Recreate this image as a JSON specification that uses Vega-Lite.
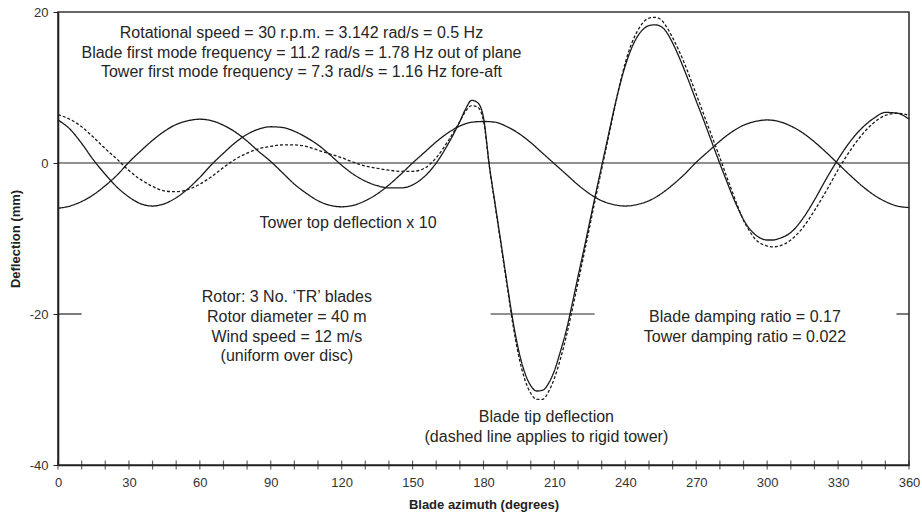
{
  "$schema": "https://vega.github.io/schema/vega-lite/v6.json",
  "width": 851,
  "height": 453,
  "autosize": {"type": "none"},
  "padding": {"left": 58, "top": 12, "right": 13, "bottom": 52},
  "background": "white",
  "config": {
    "font": "Liberation Sans",
    "view": {"stroke": "#333333", "strokeWidth": 1.6},
    "axis": {"grid": false, "domainColor": "#222222", "domainWidth": 1.6, "tickColor": "#222222", "labelColor": "#333333", "labelFont": "Liberation Sans", "labelFontSize": 13, "titleFont": "Liberation Sans", "titleFontSize": 13, "titleFontWeight": "bold", "titleColor": "#222222"}
  },
  "datasets": {
    "segments": [
      {"az": 0, "az2": 360, "d": 0},
      {"az": 0, "az2": 10, "d": -20},
      {"az": 183, "az2": 227, "d": -20},
      {"az": 354.7, "az2": 360, "d": -20}
    ],
    "xticks": [
      {"az": 0, "d": -40}, {"az": 10, "d": -40}, {"az": 20, "d": -40}, {"az": 30, "d": -40}, {"az": 40, "d": -40}, {"az": 50, "d": -40}, {"az": 60, "d": -40}, {"az": 70, "d": -40}, {"az": 80, "d": -40}, {"az": 90, "d": -40}, {"az": 100, "d": -40}, {"az": 110, "d": -40}, {"az": 120, "d": -40}, {"az": 130, "d": -40}, {"az": 140, "d": -40}, {"az": 150, "d": -40}, {"az": 160, "d": -40}, {"az": 170, "d": -40}, {"az": 180, "d": -40}, {"az": 190, "d": -40}, {"az": 200, "d": -40}, {"az": 210, "d": -40}, {"az": 220, "d": -40}, {"az": 230, "d": -40}, {"az": 240, "d": -40}, {"az": 250, "d": -40}, {"az": 260, "d": -40}, {"az": 270, "d": -40}, {"az": 280, "d": -40}, {"az": 290, "d": -40}, {"az": 300, "d": -40}, {"az": 310, "d": -40}, {"az": 320, "d": -40}, {"az": 330, "d": -40}, {"az": 340, "d": -40}, {"az": 350, "d": -40}, {"az": 360, "d": -40}
    ],
    "notes": [
      {"az": 103, "d": 17.2, "t": "Rotational speed = 30 r.p.m. = 3.142 rad/s = 0.5 Hz"},
      {"az": 103, "d": 14.6, "t": "Blade first mode frequency = 11.2 rad/s = 1.78 Hz out of plane"},
      {"az": 103, "d": 12.0, "t": "Tower first mode frequency = 7.3 rad/s = 1.16 Hz fore-aft"},
      {"az": 122.7, "d": -8.0, "t": "Tower top deflection x 10"},
      {"az": 96.8, "d": -17.8, "t": "Rotor: 3 No. ‘TR’ blades"},
      {"az": 96.8, "d": -20.4, "t": "Rotor diameter = 40 m"},
      {"az": 96.8, "d": -23.0, "t": "Wind speed = 12 m/s"},
      {"az": 96.8, "d": -25.5, "t": "(uniform over disc)"},
      {"az": 206.6, "d": -33.7, "t": "Blade tip deflection"},
      {"az": 206.6, "d": -36.3, "t": "(dashed line applies to rigid tower)"},
      {"az": 290.6, "d": -20.4, "t": "Blade damping ratio = 0.17"},
      {"az": 290.6, "d": -23.1, "t": "Tower damping ratio = 0.022"}
    ],
    "curves": [
      {"s": "tower", "az": 0, "d": -6.0}, {"s": "tower", "az": 5, "d": -5.7}, {"s": "tower", "az": 10, "d": -5.1}, {"s": "tower", "az": 15, "d": -4.2}, {"s": "tower", "az": 20, "d": -3.0}, {"s": "tower", "az": 25, "d": -1.6}, {"s": "tower", "az": 30, "d": 0.1}, {"s": "tower", "az": 35, "d": 1.6}, {"s": "tower", "az": 40, "d": 3.0}, {"s": "tower", "az": 45, "d": 4.2}, {"s": "tower", "az": 50, "d": 5.1}, {"s": "tower", "az": 55, "d": 5.6}, {"s": "tower", "az": 60, "d": 5.8}, {"s": "tower", "az": 65, "d": 5.6}, {"s": "tower", "az": 70, "d": 5.0}, {"s": "tower", "az": 75, "d": 4.1}, {"s": "tower", "az": 80, "d": 2.9}, {"s": "tower", "az": 85, "d": 1.5}, {"s": "tower", "az": 90, "d": 0.2}, {"s": "tower", "az": 95, "d": -1.3}, {"s": "tower", "az": 100, "d": -2.8}, {"s": "tower", "az": 105, "d": -4.0}, {"s": "tower", "az": 110, "d": -5.0}, {"s": "tower", "az": 115, "d": -5.6}, {"s": "tower", "az": 120, "d": -5.8}, {"s": "tower", "az": 125, "d": -5.6}, {"s": "tower", "az": 130, "d": -5.0}, {"s": "tower", "az": 135, "d": -4.1}, {"s": "tower", "az": 140, "d": -2.9}, {"s": "tower", "az": 145, "d": -1.5}, {"s": "tower", "az": 150, "d": 0.0}, {"s": "tower", "az": 155, "d": 1.4}, {"s": "tower", "az": 160, "d": 2.8}, {"s": "tower", "az": 165, "d": 4.0}, {"s": "tower", "az": 170, "d": 4.9}, {"s": "tower", "az": 175, "d": 5.4}, {"s": "tower", "az": 180, "d": 5.5}, {"s": "tower", "az": 185, "d": 5.4}, {"s": "tower", "az": 190, "d": 4.8}, {"s": "tower", "az": 195, "d": 3.9}, {"s": "tower", "az": 200, "d": 2.7}, {"s": "tower", "az": 205, "d": 1.3}, {"s": "tower", "az": 210, "d": -0.1}, {"s": "tower", "az": 215, "d": -1.5}, {"s": "tower", "az": 220, "d": -2.9}, {"s": "tower", "az": 225, "d": -4.1}, {"s": "tower", "az": 230, "d": -5.0}, {"s": "tower", "az": 235, "d": -5.5}, {"s": "tower", "az": 240, "d": -5.7}, {"s": "tower", "az": 245, "d": -5.5}, {"s": "tower", "az": 250, "d": -5.0}, {"s": "tower", "az": 255, "d": -4.1}, {"s": "tower", "az": 260, "d": -2.9}, {"s": "tower", "az": 265, "d": -1.5}, {"s": "tower", "az": 270, "d": 0.1}, {"s": "tower", "az": 275, "d": 1.5}, {"s": "tower", "az": 280, "d": 2.9}, {"s": "tower", "az": 285, "d": 4.1}, {"s": "tower", "az": 290, "d": 5.0}, {"s": "tower", "az": 295, "d": 5.5}, {"s": "tower", "az": 300, "d": 5.7}, {"s": "tower", "az": 305, "d": 5.5}, {"s": "tower", "az": 310, "d": 4.9}, {"s": "tower", "az": 315, "d": 4.0}, {"s": "tower", "az": 320, "d": 2.8}, {"s": "tower", "az": 325, "d": 1.4}, {"s": "tower", "az": 330, "d": -0.1}, {"s": "tower", "az": 335, "d": -1.6}, {"s": "tower", "az": 340, "d": -3.0}, {"s": "tower", "az": 345, "d": -4.2}, {"s": "tower", "az": 350, "d": -5.1}, {"s": "tower", "az": 355, "d": -5.7}, {"s": "tower", "az": 360, "d": -5.9},

      {"s": "rigid", "az": 0, "d": 6.4}, {"s": "rigid", "az": 5, "d": 5.8}, {"s": "rigid", "az": 10, "d": 4.8}, {"s": "rigid", "az": 15, "d": 3.4}, {"s": "rigid", "az": 20, "d": 1.9}, {"s": "rigid", "az": 25, "d": 0.5}, {"s": "rigid", "az": 30, "d": -1.0}, {"s": "rigid", "az": 35, "d": -2.2}, {"s": "rigid", "az": 40, "d": -3.1}, {"s": "rigid", "az": 45, "d": -3.7}, {"s": "rigid", "az": 50, "d": -3.8}, {"s": "rigid", "az": 55, "d": -3.5}, {"s": "rigid", "az": 60, "d": -2.8}, {"s": "rigid", "az": 65, "d": -1.8}, {"s": "rigid", "az": 70, "d": -0.6}, {"s": "rigid", "az": 75, "d": 0.5}, {"s": "rigid", "az": 80, "d": 1.3}, {"s": "rigid", "az": 85, "d": 1.9}, {"s": "rigid", "az": 90, "d": 2.2}, {"s": "rigid", "az": 95, "d": 2.4}, {"s": "rigid", "az": 100, "d": 2.4}, {"s": "rigid", "az": 105, "d": 2.2}, {"s": "rigid", "az": 110, "d": 1.7}, {"s": "rigid", "az": 115, "d": 1.2}, {"s": "rigid", "az": 120, "d": 0.7}, {"s": "rigid", "az": 125, "d": 0.1}, {"s": "rigid", "az": 130, "d": -0.4}, {"s": "rigid", "az": 135, "d": -0.7}, {"s": "rigid", "az": 140, "d": -0.95}, {"s": "rigid", "az": 145, "d": -1.1}, {"s": "rigid", "az": 150, "d": -1.1}, {"s": "rigid", "az": 155, "d": -0.7}, {"s": "rigid", "az": 160, "d": 0.7}, {"s": "rigid", "az": 165, "d": 2.9}, {"s": "rigid", "az": 170, "d": 5.5}, {"s": "rigid", "az": 172.5, "d": 6.9}, {"s": "rigid", "az": 175, "d": 7.6}, {"s": "rigid", "az": 177.5, "d": 7.4}, {"s": "rigid", "az": 180, "d": 5.6}, {"s": "rigid", "az": 182.5, "d": -0.5}, {"s": "rigid", "az": 185, "d": -5.8}, {"s": "rigid", "az": 187.5, "d": -11.0}, {"s": "rigid", "az": 190, "d": -16.3}, {"s": "rigid", "az": 192.5, "d": -21.5}, {"s": "rigid", "az": 195, "d": -25.7}, {"s": "rigid", "az": 197.5, "d": -28.7}, {"s": "rigid", "az": 200, "d": -30.5}, {"s": "rigid", "az": 202.5, "d": -31.3}, {"s": "rigid", "az": 205, "d": -31.3}, {"s": "rigid", "az": 207.5, "d": -30.3}, {"s": "rigid", "az": 210, "d": -28.5}, {"s": "rigid", "az": 212.5, "d": -26.0}, {"s": "rigid", "az": 215, "d": -23.0}, {"s": "rigid", "az": 217.5, "d": -19.5}, {"s": "rigid", "az": 220, "d": -15.8}, {"s": "rigid", "az": 222.5, "d": -12.1}, {"s": "rigid", "az": 225, "d": -8.3}, {"s": "rigid", "az": 227.5, "d": -4.5}, {"s": "rigid", "az": 230, "d": -0.8}, {"s": "rigid", "az": 232.5, "d": 2.9}, {"s": "rigid", "az": 235, "d": 6.6}, {"s": "rigid", "az": 237.5, "d": 10.2}, {"s": "rigid", "az": 240, "d": 13.3}, {"s": "rigid", "az": 242.5, "d": 15.7}, {"s": "rigid", "az": 245, "d": 17.4}, {"s": "rigid", "az": 247.5, "d": 18.6}, {"s": "rigid", "az": 250, "d": 19.2}, {"s": "rigid", "az": 252.5, "d": 19.3}, {"s": "rigid", "az": 255, "d": 19.0}, {"s": "rigid", "az": 257.5, "d": 18.0}, {"s": "rigid", "az": 260, "d": 16.6}, {"s": "rigid", "az": 262.5, "d": 15.0}, {"s": "rigid", "az": 265, "d": 13.2}, {"s": "rigid", "az": 267.5, "d": 11.2}, {"s": "rigid", "az": 270, "d": 9.1}, {"s": "rigid", "az": 272.5, "d": 7.0}, {"s": "rigid", "az": 275, "d": 4.9}, {"s": "rigid", "az": 277.5, "d": 2.8}, {"s": "rigid", "az": 280, "d": 0.7}, {"s": "rigid", "az": 282.5, "d": -1.5}, {"s": "rigid", "az": 285, "d": -3.6}, {"s": "rigid", "az": 287.5, "d": -5.7}, {"s": "rigid", "az": 290, "d": -7.6}, {"s": "rigid", "az": 292.5, "d": -9.0}, {"s": "rigid", "az": 295, "d": -10.1}, {"s": "rigid", "az": 297.5, "d": -10.7}, {"s": "rigid", "az": 300, "d": -11.0}, {"s": "rigid", "az": 302.5, "d": -11.1}, {"s": "rigid", "az": 305, "d": -11.0}, {"s": "rigid", "az": 310, "d": -10.2}, {"s": "rigid", "az": 315, "d": -8.6}, {"s": "rigid", "az": 320, "d": -6.3}, {"s": "rigid", "az": 325, "d": -3.7}, {"s": "rigid", "az": 330, "d": -0.9}, {"s": "rigid", "az": 335, "d": 1.6}, {"s": "rigid", "az": 340, "d": 3.7}, {"s": "rigid", "az": 345, "d": 5.3}, {"s": "rigid", "az": 350, "d": 6.3}, {"s": "rigid", "az": 355, "d": 6.6}, {"s": "rigid", "az": 360, "d": 6.3},

      {"s": "blade", "az": 0, "d": 5.7}, {"s": "blade", "az": 5, "d": 4.5}, {"s": "blade", "az": 10, "d": 2.6}, {"s": "blade", "az": 15, "d": 0.4}, {"s": "blade", "az": 20, "d": -1.5}, {"s": "blade", "az": 25, "d": -3.2}, {"s": "blade", "az": 30, "d": -4.5}, {"s": "blade", "az": 35, "d": -5.4}, {"s": "blade", "az": 40, "d": -5.7}, {"s": "blade", "az": 45, "d": -5.4}, {"s": "blade", "az": 50, "d": -4.6}, {"s": "blade", "az": 55, "d": -3.4}, {"s": "blade", "az": 60, "d": -1.9}, {"s": "blade", "az": 65, "d": -0.2}, {"s": "blade", "az": 70, "d": 1.3}, {"s": "blade", "az": 75, "d": 2.7}, {"s": "blade", "az": 80, "d": 3.8}, {"s": "blade", "az": 85, "d": 4.5}, {"s": "blade", "az": 90, "d": 4.8}, {"s": "blade", "az": 95, "d": 4.7}, {"s": "blade", "az": 100, "d": 4.2}, {"s": "blade", "az": 105, "d": 3.4}, {"s": "blade", "az": 110, "d": 2.4}, {"s": "blade", "az": 115, "d": 1.1}, {"s": "blade", "az": 120, "d": -0.3}, {"s": "blade", "az": 125, "d": -1.5}, {"s": "blade", "az": 130, "d": -2.4}, {"s": "blade", "az": 135, "d": -3.0}, {"s": "blade", "az": 140, "d": -3.3}, {"s": "blade", "az": 145, "d": -3.3}, {"s": "blade", "az": 150, "d": -2.9}, {"s": "blade", "az": 155, "d": -1.8}, {"s": "blade", "az": 160, "d": 0.0}, {"s": "blade", "az": 165, "d": 2.5}, {"s": "blade", "az": 170, "d": 5.5}, {"s": "blade", "az": 172.5, "d": 7.2}, {"s": "blade", "az": 175, "d": 8.3}, {"s": "blade", "az": 177.5, "d": 8.0}, {"s": "blade", "az": 180, "d": 6.0}, {"s": "blade", "az": 182.5, "d": -0.4}, {"s": "blade", "az": 185, "d": -5.6}, {"s": "blade", "az": 187.5, "d": -10.8}, {"s": "blade", "az": 190, "d": -16.0}, {"s": "blade", "az": 192.5, "d": -21.0}, {"s": "blade", "az": 195, "d": -25.0}, {"s": "blade", "az": 197.5, "d": -27.8}, {"s": "blade", "az": 200, "d": -29.5}, {"s": "blade", "az": 202.5, "d": -30.2}, {"s": "blade", "az": 205, "d": -30.1}, {"s": "blade", "az": 207.5, "d": -29.2}, {"s": "blade", "az": 210, "d": -27.5}, {"s": "blade", "az": 212.5, "d": -25.0}, {"s": "blade", "az": 215, "d": -22.2}, {"s": "blade", "az": 217.5, "d": -18.7}, {"s": "blade", "az": 220, "d": -15.0}, {"s": "blade", "az": 222.5, "d": -11.4}, {"s": "blade", "az": 225, "d": -7.7}, {"s": "blade", "az": 227.5, "d": -4.0}, {"s": "blade", "az": 230, "d": -0.4}, {"s": "blade", "az": 232.5, "d": 3.2}, {"s": "blade", "az": 235, "d": 6.8}, {"s": "blade", "az": 237.5, "d": 10.1}, {"s": "blade", "az": 240, "d": 12.9}, {"s": "blade", "az": 242.5, "d": 15.1}, {"s": "blade", "az": 245, "d": 16.7}, {"s": "blade", "az": 247.5, "d": 17.7}, {"s": "blade", "az": 250, "d": 18.2}, {"s": "blade", "az": 252.5, "d": 18.3}, {"s": "blade", "az": 255, "d": 18.1}, {"s": "blade", "az": 257.5, "d": 17.3}, {"s": "blade", "az": 260, "d": 15.9}, {"s": "blade", "az": 262.5, "d": 14.2}, {"s": "blade", "az": 265, "d": 12.3}, {"s": "blade", "az": 267.5, "d": 10.3}, {"s": "blade", "az": 270, "d": 8.2}, {"s": "blade", "az": 272.5, "d": 6.2}, {"s": "blade", "az": 275, "d": 4.1}, {"s": "blade", "az": 277.5, "d": 2.0}, {"s": "blade", "az": 280, "d": -0.1}, {"s": "blade", "az": 282.5, "d": -2.1}, {"s": "blade", "az": 285, "d": -4.1}, {"s": "blade", "az": 287.5, "d": -5.9}, {"s": "blade", "az": 290, "d": -7.5}, {"s": "blade", "az": 292.5, "d": -8.7}, {"s": "blade", "az": 295, "d": -9.5}, {"s": "blade", "az": 297.5, "d": -10.0}, {"s": "blade", "az": 300, "d": -10.2}, {"s": "blade", "az": 302.5, "d": -10.2}, {"s": "blade", "az": 305, "d": -10.0}, {"s": "blade", "az": 310, "d": -9.2}, {"s": "blade", "az": 315, "d": -7.4}, {"s": "blade", "az": 320, "d": -4.9}, {"s": "blade", "az": 325, "d": -2.1}, {"s": "blade", "az": 330, "d": 0.5}, {"s": "blade", "az": 335, "d": 2.8}, {"s": "blade", "az": 340, "d": 4.6}, {"s": "blade", "az": 345, "d": 5.9}, {"s": "blade", "az": 350, "d": 6.7}, {"s": "blade", "az": 355, "d": 6.6}, {"s": "blade", "az": 360, "d": 5.8}
    ]
  },
  "encoding": {
    "x": {
      "field": "az", "type": "quantitative",
      "scale": {"domain": [0, 360], "nice": false, "zero": false},
      "axis": {"values": [0, 30, 60, 90, 120, 150, 180, 210, 240, 270, 300, 330, 360], "ticks": false, "labelPadding": 11, "title": "Blade azimuth (degrees)", "titlePadding": 9, "labelFlush": false, "labelExpr": "'' + datum.value"}
    },
    "y": {
      "field": "d", "type": "quantitative",
      "scale": {"domain": [-40, 20], "nice": false, "zero": false},
      "axis": {"values": [-40, -20, 0, 20], "tickSize": 5, "labelPadding": 5, "title": "Deflection (mm)", "titlePadding": 7, "labelFlush": false, "labelExpr": "'' + datum.value"}
    }
  },
  "layer": [
    {
      "data": {"name": "segments"},
      "mark": {"type": "rule", "color": "#222222", "strokeWidth": 1.2},
      "encoding": {"x2": {"field": "az2"}}
    },
    {
      "data": {"name": "xticks"},
      "mark": {"type": "tick", "orient": "vertical", "size": 9, "thickness": 1.2, "color": "#222222"}
    },
    {
      "data": {"name": "curves"},
      "mark": {"type": "line", "interpolate": "monotone", "color": "#1a1a1a", "strokeWidth": 1.3},
      "encoding": {
        "strokeDash": {"field": "s", "type": "nominal", "scale": {"domain": ["rigid", "tower", "blade"], "range": [[3, 2], [1, 0], [1, 0]]}, "legend": null}
      }
    },
    {
      "data": {"name": "notes"},
      "mark": {"type": "text", "font": "Liberation Sans", "fontSize": 16, "color": "#262626", "align": "center", "baseline": "middle"},
      "encoding": {"text": {"field": "t"}}
    }
  ]
}
